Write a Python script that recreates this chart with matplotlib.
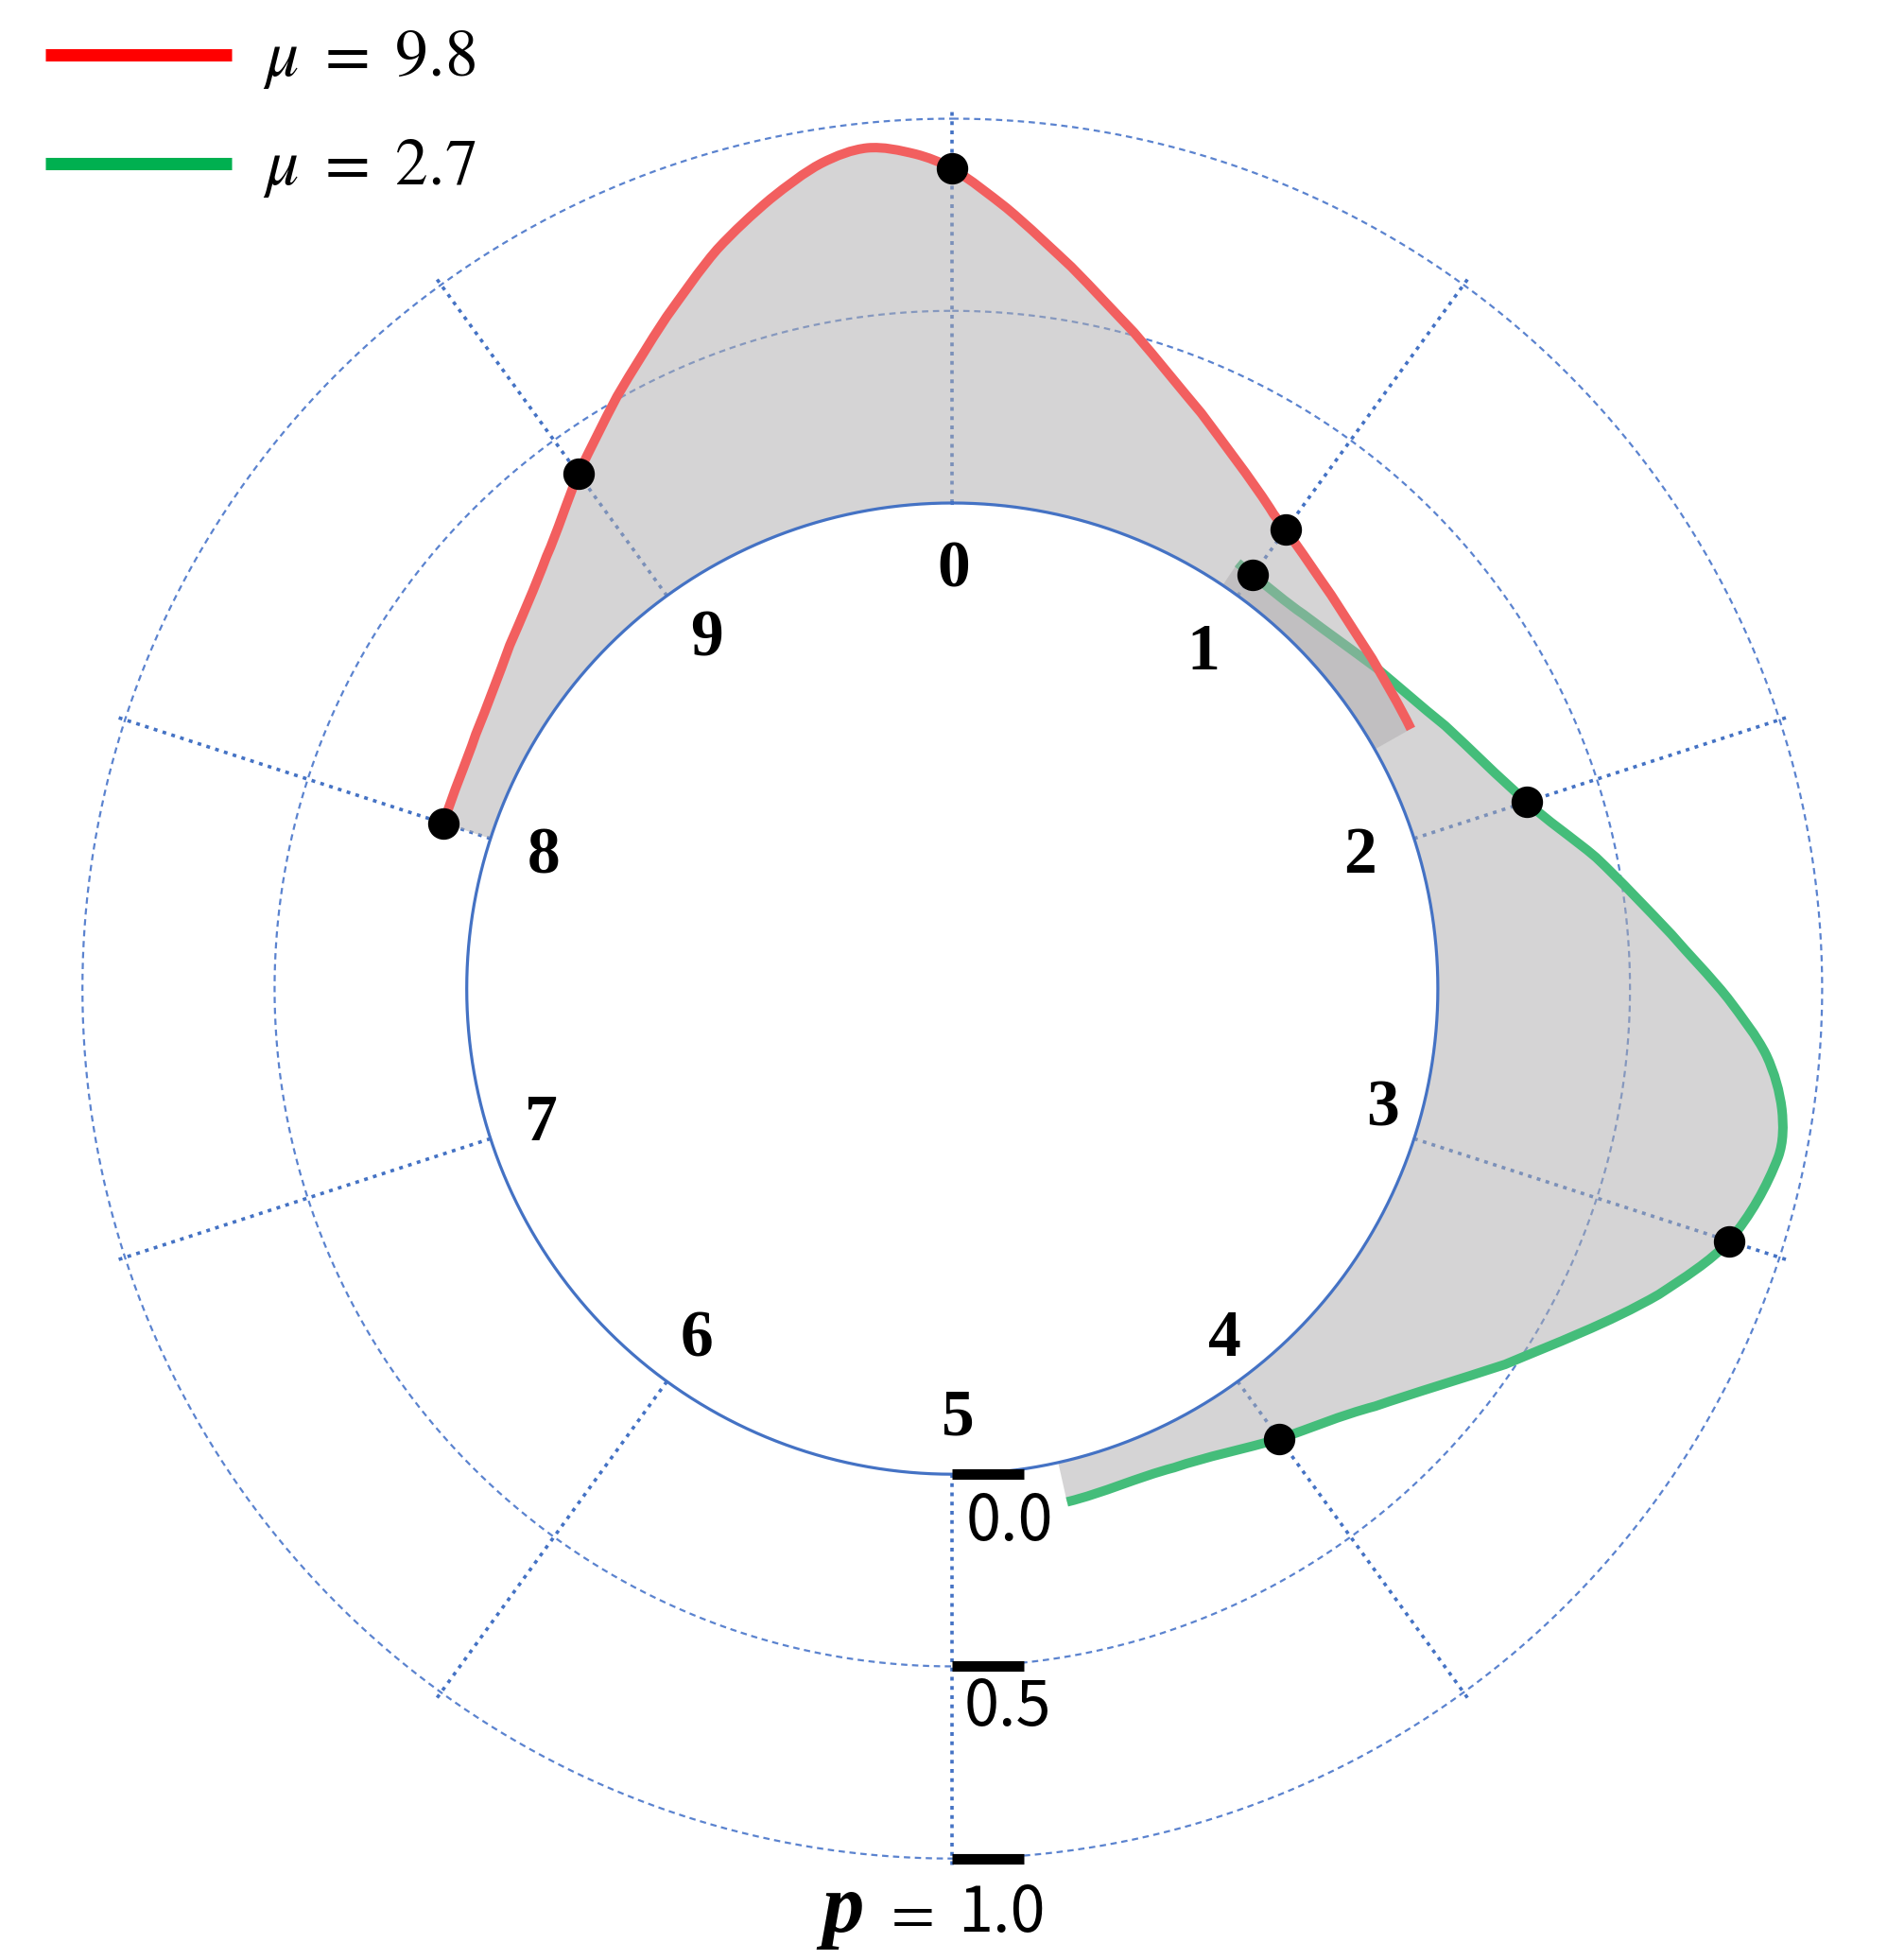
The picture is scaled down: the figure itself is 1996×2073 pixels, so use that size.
import numpy as np
import matplotlib
matplotlib.use("Agg")
import matplotlib.pyplot as plt
from matplotlib.lines import Line2D
from matplotlib.path import Path
from matplotlib.patches import PathPatch
import matplotlib.transforms as mtransforms

plt.rcParams['mathtext.fontset'] = 'stix'

# ---------------- data ----------------
categories = ['0', '1', '2', '3', '4', '5', '6', '7', '8', '9']
n_cat = len(categories)

legend_labels = [r'$\mu\ =\ 9.8$', r'$\mu\ =\ 2.7$']

# red curve (mu = 9.8): position in category units (negative = wrapping before 0)
red_pos = [-2.00, -1.72, -1.45, -1.20, -1.00, -0.82, -0.64, -0.49, -0.36, -0.25,
           -0.16, -0.07, 0.00, 0.11, 0.26, 0.43, 0.65, 0.93, 1.00, 1.22, 1.44, 1.68]
red_val = [0.128, 0.142, 0.194, 0.279, 0.392, 0.507, 0.636, 0.755, 0.845, 0.911,
           0.935, 0.910, 0.870, 0.773, 0.640, 0.508, 0.368, 0.235, 0.212, 0.158, 0.126, 0.108]
red_dot_cat = [8, 9, 0, 1]
red_dot_val = [0.128, 0.392, 0.870, 0.212]

# green curve (mu = 2.7)
green_pos = [0.94, 1.00, 1.20, 1.47, 1.72, 2.00, 2.18, 2.38, 2.52, 2.63,
             2.73, 2.82, 3.00, 3.15, 3.45, 3.74, 4.00, 4.31, 4.65]
green_val = [0.070, 0.066, 0.072, 0.120, 0.190, 0.309, 0.446, 0.613, 0.755, 0.862,
             0.918, 0.930, 0.862, 0.740, 0.476, 0.283, 0.185, 0.110, 0.105]
green_dot_cat = [1, 2, 3, 4]
green_dot_val = [0.066, 0.309, 0.862, 0.185]

r_ticks = [0.0, 0.5, 1.0]
r_tick_labels = ['0.0', '0.5', '1.0']

# ---------------- layout / style ----------------
label_r = [-0.177, -0.174, -0.150, -0.101, -0.107, -0.144, -0.134, -0.138, -0.146, -0.153]
label_dth_deg = [0.2, 0.9, 0.1, -2.3, -1.8, -0.7, 0.0, -0.3, -0.2, 0.8]

W, H = 1996, 2073
fig = plt.figure(figsize=(W / 100, H / 100), dpi=100)
fig.patch.set_facecolor('white')

cx, cy = 1007.3, 1045.6          # centre in pixels (from top)
R0, S = 513.6, 406.5             # radius of r=0 and px per unit
rmax = 1.03
Rmax = R0 + S * rmax
ax = fig.add_axes([(cx - Rmax) / W, (H - cy - Rmax) / H, 2 * Rmax / W, 2 * Rmax / H],
                  projection='polar')
ax.set_theta_zero_location('N')
ax.set_theta_direction(-1)
ax.set_ylim(0, rmax)
ax.set_rorigin(-R0 / S)
ax.axis('off')


def to_th(p):
    return np.asarray(p, dtype=float) * 2 * np.pi / n_cat


def smooth_verts(th, r):
    """Cubic Bezier path through the read points, in (theta, r)."""
    th = np.asarray(th, float)
    r = np.asarray(r, float)
    n = len(th)
    m = np.empty(n)
    m[0] = (r[1] - r[0]) / (th[1] - th[0])
    m[-1] = (r[-1] - r[-2]) / (th[-1] - th[-2])
    for i in range(1, n - 1):
        m[i] = (r[i + 1] - r[i - 1]) / (th[i + 1] - th[i - 1])
    verts = [(th[0], r[0])]
    codes = [Path.MOVETO]
    for i in range(n - 1):
        h = th[i + 1] - th[i]
        verts += [(th[i] + h / 3, r[i] + m[i] * h / 3),
                  (th[i + 1] - h / 3, r[i + 1] - m[i + 1] * h / 3),
                  (th[i + 1], r[i + 1])]
        codes += [Path.CURVE4] * 3
    return verts, codes


def add_series(pos, val, fill_col, z):
    th = to_th(pos)
    verts, codes = smooth_verts(th, val)
    back = np.linspace(th[-1], th[0], 200)
    fverts = verts + [(th[-1], 0.0)] + [(t, 0.0) for t in back[1:]] + [(th[0], val[0])]
    fcodes = codes + [Path.LINETO] * (len(back)) + [Path.CLOSEPOLY]
    ax.add_patch(PathPatch(Path(fverts, fcodes), transform=ax.transData,
                           facecolor=fill_col, alpha=0.52, lw=0, zorder=z))
    return verts, codes


grid_blue = '#4472C4'
circ_blue = '#5B83CF'
th_dense = np.linspace(0, 2 * np.pi, 1441)

# dashed circles
for rv in [0.5, 1.0]:
    ax.plot(th_dense, np.full_like(th_dense, rv), color=circ_blue, lw=1.6,
            ls=(0, (3.0, 2.2)), zorder=1)
# dotted spokes
for k in range(n_cat):
    ax.plot([to_th(k)] * 2, [0, 1.025], color=grid_blue, lw=2.6,
            ls=(0, (1.1, 1.6)), zorder=1, clip_on=False)

fill_col = '#AFADAF'
red_line = '#F25F5F'
green_line = '#44BD7A'

gv, gc = add_series(green_pos, green_val, fill_col, 2)
ax.add_patch(PathPatch(Path(gv, gc), transform=ax.transData, fill=False,
                       edgecolor=green_line, lw=7.2, capstyle='butt',
                       joinstyle='round', zorder=3))
rv_, rc_ = add_series(red_pos, red_val, fill_col, 4)
ax.add_patch(PathPatch(Path(rv_, rc_), transform=ax.transData, fill=False,
                       edgecolor=red_line, lw=7.2, capstyle='butt',
                       joinstyle='round', zorder=5))

# inner solid circle
ax.plot(th_dense, np.zeros_like(th_dense), color=grid_blue, lw=2.3, zorder=6, clip_on=False)

# dots
ax.plot(to_th(red_dot_cat), red_dot_val, 'o', color='black', ms=23, zorder=8, clip_on=False)
ax.plot(to_th(green_dot_cat), green_dot_val, 'o', color='black', ms=23, zorder=8, clip_on=False)

# category labels
for k, lab in enumerate(categories):
    ax.text(to_th(k) + np.deg2rad(label_dth_deg[k]), label_r[k], lab, ha='center',
            va='center', fontsize=50, family='Liberation Serif', weight='bold', zorder=9)

# radial tick bars at the bottom
bar = Path([(0, 0), (1, 0)])
ax.plot([np.pi] * len(r_ticks), r_ticks, ls='none', marker=bar, ms=110,
        mew=8.0, mec='black', zorder=9, clip_on=False)

# radial tick labels
label_dy = [-70, -63, -77]
label_dx = [14, 12, 6]
for rv, lab, dy, dx in zip(r_ticks, r_tick_labels, label_dy, label_dx):
    tr = mtransforms.offset_copy(ax.transData, fig=fig, x=dx, y=dy, units='dots')
    ax.text(np.pi, rv, lab, transform=tr, ha='left', va='baseline', fontsize=48,
            family=['Noto Sans CJK SC', 'DejaVu Sans'], weight='light', zorder=9)

tr_eq = mtransforms.offset_copy(ax.transData, fig=fig, x=-20, y=-77, units='dots')
ax.text(np.pi, 1.0, r'$=$', transform=tr_eq, ha='right', va='baseline', fontsize=48, zorder=9)
tr_p = mtransforms.offset_copy(ax.transData, fig=fig, x=-93, y=-77, units='dots')
ax.text(np.pi, 1.0, 'p', transform=tr_p, ha='right', va='baseline', fontsize=64,
        family='Liberation Serif', weight='bold', style='italic', zorder=9)

ax.set_thetalim(0, 2 * np.pi)
ax.set_ylim(0, rmax)

# legend (manual)
leg_cols = ['#FF0000', '#00B050']
leg_y = [58, 173]
for col, yy, lab in zip(leg_cols, leg_y, legend_labels):
    fig.add_artist(Line2D([48 / W, 245 / W], [1 - yy / H, 1 - yy / H], color=col,
                          lw=9.4, solid_capstyle='butt'))
    fig.text(278 / W, 1 - (yy + 22) / H, lab, ha='left', va='baseline', fontsize=50)

fig.savefig('out.png', dpi=100, facecolor='white')
